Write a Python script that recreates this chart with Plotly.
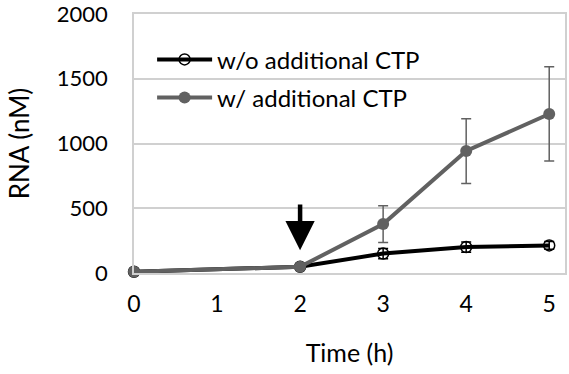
import plotly.graph_objects as go

# Data
time_h = [0, 2, 3, 4, 5]
rna_without = [10, 48, 150, 200, 213]
err_without = [0, 0, 40, 40, 30]
rna_with = [10, 48, 378, 942, 1228]
err_with = [0, 0, 142, 250, 364]

GREY = '#616161'
FONT = 'Lato, Open Sans, sans-serif'

fig = go.Figure()

fig.add_trace(go.Scatter(
    x=time_h, y=rna_without, mode='lines+markers', name='w/o additional CTP',
    line=dict(color='black', width=4),
    marker=dict(symbol='circle-open', size=11, color='black', line=dict(width=1.5)),
    error_y=dict(type='data', array=err_without, color='black', thickness=1.5, width=5),
    cliponaxis=False, legendgroup='a',
))
fig.add_trace(go.Scatter(
    x=time_h, y=rna_with, mode='lines+markers', name='w/ additional CTP',
    line=dict(color=GREY, width=4),
    marker=dict(symbol='circle', size=12, color=GREY),
    error_y=dict(type='data', array=err_with, color=GREY, thickness=1.5, width=5),
    cliponaxis=False, legendgroup='b',
))

# Arrow marking CTP addition at 2 h
fig.add_annotation(
    x=2, y=176, ax=2, ay=540, xref='x', yref='y', axref='x', ayref='y',
    showarrow=True, arrowhead=2, arrowsize=1.3, arrowwidth=4.5, arrowcolor='black', text='',
)

fig.update_layout(
    width=569, height=374,
    margin=dict(l=134, r=4, t=14, b=101, autoexpand=False),
    paper_bgcolor='white', plot_bgcolor='white',
    font=dict(family=FONT, size=24, color='black'),
    showlegend=True,
    legend=dict(
        x=0.042, y=0.91, xanchor='left', yanchor='top',
        bgcolor='rgba(0,0,0,0)', font=dict(size=24),
        itemwidth=55, tracegroupgap=4, traceorder='grouped',
    ),
)
fig.update_xaxes(
    range=[0, 5.19], tickvals=[0, 1, 2, 3, 4, 5], showgrid=False, zeroline=False,
    showline=True, linecolor='#d0d0d0', linewidth=1.5, mirror=True, ticks='',
    title=dict(text='Time (h)', font=dict(size=25), standoff=28),
    tickfont=dict(size=23), automargin=False, ticklabelstandoff=10,
    ticklabeloverflow='allow',
)
fig.update_yaxes(
    range=[0, 2000], tickvals=[0, 500, 1000, 1500, 2000], showgrid=True,
    gridcolor='#d0d0d0', gridwidth=1.5, zeroline=False,
    showline=True, linecolor='#d0d0d0', linewidth=1.5, mirror=True, ticks='',
    title=dict(text='RNA (nM)', font=dict(size=26), standoff=20),
    tickfont=dict(size=22), ticklabelstandoff=20, automargin=False,
    ticklabeloverflow='allow',
)

fig.write_html('out.html', config={'displayModeBar': False},
               post_script="document.body.style.margin='0';")
